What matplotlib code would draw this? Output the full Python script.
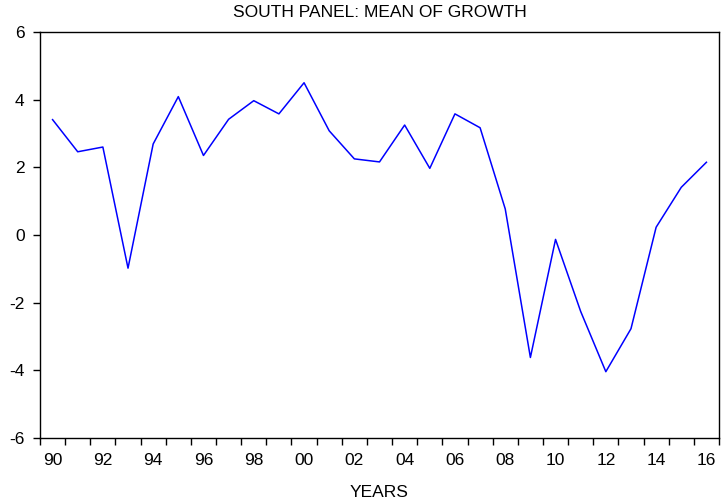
import numpy as np
import matplotlib.pyplot as plt

plt.rcParams['font.family'] = ['Liberation Sans', 'DejaVu Sans']

# data
years = np.arange(1990, 2017)
growth = [3.41, 2.46, 2.60, -0.98, 2.69, 4.09, 2.35, 3.42, 3.97, 3.58,
          4.50, 3.08, 2.25, 2.16, 3.25, 1.97, 3.58, 3.17, 0.77, -3.62,
          -0.13, -2.26, -4.04, -2.77, 0.23, 1.41, 2.15]
label_years = np.arange(1990, 2017, 2)
label_text = ['%02d' % (y % 100) for y in label_years]
y_ticks = [-6, -4, -2, 0, 2, 4, 6]

fig = plt.figure(figsize=(7.21, 5.01), dpi=100)
ax = fig.add_axes([40/721, 63/501, 679/721, 406/501])

ax.plot(years, growth, color='#0000ff', lw=1.1)

ax.set_xlim(1989.5, 2016.5)
ax.set_ylim(-6, 6)

# year boundaries as tick marks, labels at year centres
ax.set_xticks(np.arange(1989.5, 2017, 1))
ax.set_xticklabels([])
ax.set_xticks(label_years, minor=True)
ax.set_xticklabels(label_text, minor=True)
ax.tick_params(axis='x', which='major', direction='out', length=5, width=1)
ax.tick_params(axis='x', which='minor', length=0, pad=11, labelsize=12.5)

ax.set_yticks(y_ticks)
ax.set_yticklabels([str(v) for v in y_ticks])
ax.tick_params(axis='y', direction='out', length=5, width=1, pad=6, labelsize=12.5)

for s in ax.spines.values():
    s.set_linewidth(1.0)

ax.set_title('SOUTH PANEL: MEAN OF GROWTH', fontsize=12.5, pad=10.5)
ax.set_xlabel('YEARS', fontsize=12.5, labelpad=12)

fig.savefig('out.png', dpi=100)
